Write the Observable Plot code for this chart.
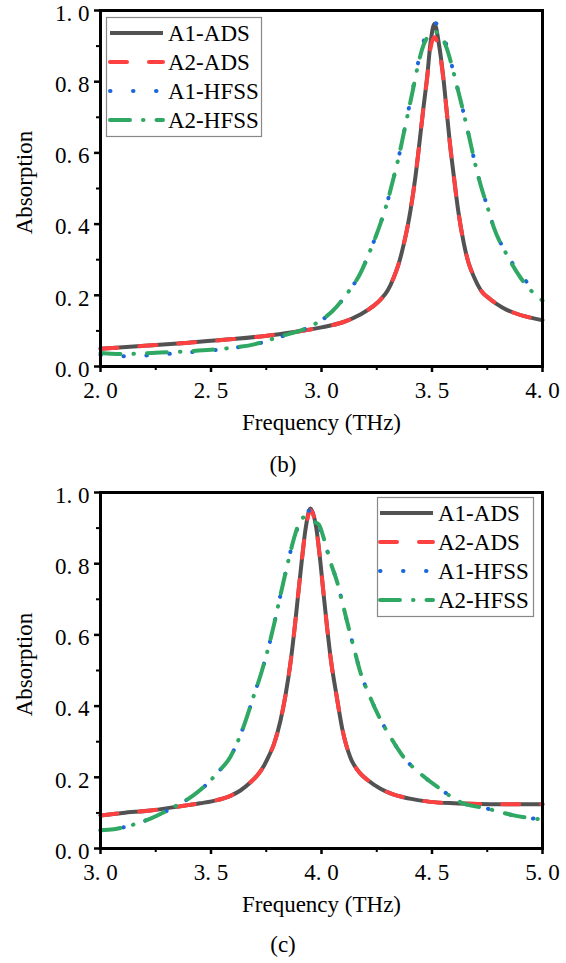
<!DOCTYPE html>
<html><head><meta charset="utf-8">
<script src="https://cdn.jsdelivr.net/npm/d3@7"></script>
<script src="https://cdn.jsdelivr.net/npm/@observablehq/plot@0.6"></script>
<style>
body{margin:0;background:#fff;width:566px;height:963px;position:relative;font-family:'Liberation Serif',serif;overflow:hidden;}
.panel{position:absolute;left:0;}
.cap{position:absolute;left:0;width:566px;text-align:center;font-size:23px;line-height:26px;color:#000;font-family:'Liberation Serif',serif;}
.legend{position:absolute;}
.plotwrap svg text{font-family:'Liberation Serif',serif;}
</style></head><body>
<div id="pb" class="panel plotwrap" style="top:0"></div>
<div class="cap" style="top:452px">(b)</div>
<div id="pc" class="panel plotwrap" style="top:480px"></div>
<div class="cap" style="top:932px">(c)</div>
<script>
// ---------- series meta ----------
const seriesNames = ["A1-ADS", "A2-ADS", "A1-HFSS", "A2-HFSS"];
const seriesColors = ["#525252", "#ff4040", "#1c66dc", "#2ea862"];
const seriesDash = [null, "17,22", "0.5,22.5", "20,13,0.5,13"];

const yTicks = [0, 0.2, 0.4, 0.6, 0.8, 1.0];
const yMinor = [0.1, 0.3, 0.5, 0.7, 0.9];

// ---------- panel (b) ----------
const xTicksB = [2.0, 2.5, 3.0, 3.5, 4.0];
const xMinorB = [2.25, 2.75, 3.25, 3.75];

const freqB_ADS = [2.0, 2.2, 2.4, 2.6, 2.8, 2.9, 3.0, 3.1, 3.176, 3.22, 3.267, 3.3, 3.327, 3.35, 3.372, 3.39, 3.403, 3.425, 3.443, 3.46, 3.478, 3.493, 3.511, 3.531, 3.551, 3.566, 3.581, 3.599, 3.618, 3.644, 3.665, 3.689, 3.72, 3.765, 3.82, 3.87, 3.94, 4.0];
const absB_A1ADS = [0.050, 0.058, 0.067, 0.077, 0.090, 0.099, 0.110, 0.125, 0.146, 0.163, 0.188, 0.214, 0.250, 0.290, 0.343, 0.395, 0.440, 0.533, 0.627, 0.720, 0.813, 0.907, 0.963, 0.907, 0.813, 0.720, 0.627, 0.533, 0.440, 0.346, 0.292, 0.253, 0.215, 0.188, 0.165, 0.151, 0.138, 0.130];
const absB_A2ADS = [0.050, 0.058, 0.067, 0.077, 0.090, 0.099, 0.110, 0.125, 0.146, 0.163, 0.188, 0.214, 0.250, 0.290, 0.343, 0.395, 0.440, 0.533, 0.627, 0.720, 0.810, 0.893, 0.925, 0.893, 0.810, 0.720, 0.627, 0.533, 0.440, 0.346, 0.292, 0.253, 0.215, 0.188, 0.165, 0.151, 0.138, 0.130];

const freqB_HFSS = [2.0, 2.05, 2.1, 2.2, 2.3, 2.4, 2.5, 2.6, 2.7, 2.77, 2.85, 2.9, 3.0, 3.05, 3.116, 3.176, 3.22, 3.267, 3.297, 3.32, 3.35, 3.372, 3.395, 3.418, 3.436, 3.463, 3.49, 3.513, 3.54, 3.566, 3.596, 3.614, 3.644, 3.667, 3.697, 3.72, 3.75, 3.78, 3.84, 3.9, 3.95, 4.0];
const absB_A1HFSS = [0.033, 0.029, 0.029, 0.031, 0.035, 0.040, 0.045, 0.052, 0.062, 0.075, 0.090, 0.099, 0.130, 0.155, 0.205, 0.262, 0.325, 0.402, 0.460, 0.515, 0.590, 0.655, 0.725, 0.795, 0.850, 0.915, 0.952, 0.965, 0.945, 0.902, 0.830, 0.785, 0.710, 0.648, 0.565, 0.510, 0.450, 0.390, 0.315, 0.258, 0.225, 0.205];
const absB_A2HFSS = [0.038, 0.036, 0.035, 0.037, 0.040, 0.043, 0.047, 0.053, 0.063, 0.076, 0.091, 0.100, 0.131, 0.156, 0.205, 0.262, 0.325, 0.402, 0.460, 0.515, 0.590, 0.655, 0.722, 0.790, 0.845, 0.905, 0.932, 0.940, 0.930, 0.895, 0.830, 0.785, 0.710, 0.648, 0.565, 0.510, 0.450, 0.390, 0.312, 0.250, 0.212, 0.185];

// ---------- panel (c) ----------
const xTicksC = [3.0, 3.5, 4.0, 4.5, 5.0];
const xMinorC = [3.25, 3.75, 4.25, 4.75];

const freqC_ADS = [3.0, 3.1, 3.226, 3.377, 3.45, 3.528, 3.588, 3.633, 3.679, 3.709, 3.739, 3.762, 3.784, 3.814, 3.837, 3.86, 3.878, 3.894, 3.91, 3.928, 3.95, 3.977, 3.995, 4.01, 4.026, 4.044, 4.068, 4.094, 4.131, 4.17, 4.207, 4.267, 4.312, 4.4, 4.493, 4.6, 4.72, 4.85, 5.0];
const absC_A1ADS = [0.093, 0.100, 0.107, 0.120, 0.127, 0.136, 0.148, 0.163, 0.186, 0.205, 0.232, 0.260, 0.292, 0.358, 0.430, 0.523, 0.617, 0.711, 0.804, 0.898, 0.955, 0.898, 0.804, 0.711, 0.617, 0.523, 0.430, 0.336, 0.255, 0.215, 0.193, 0.168, 0.155, 0.140, 0.131, 0.127, 0.125, 0.124, 0.124];
const absC_A2ADS = [0.093, 0.100, 0.107, 0.120, 0.127, 0.136, 0.148, 0.163, 0.186, 0.205, 0.232, 0.260, 0.292, 0.358, 0.430, 0.523, 0.617, 0.711, 0.804, 0.895, 0.950, 0.895, 0.804, 0.711, 0.617, 0.523, 0.430, 0.336, 0.255, 0.215, 0.193, 0.168, 0.155, 0.140, 0.131, 0.127, 0.125, 0.124, 0.124];

const freqC_HFSS = [3.0, 3.06, 3.12, 3.226, 3.33, 3.42, 3.48, 3.528, 3.588, 3.649, 3.694, 3.724, 3.762, 3.784, 3.814, 3.845, 3.875, 3.897, 3.92, 3.943, 3.965, 3.988, 4.01, 4.041, 4.071, 4.094, 4.124, 4.146, 4.176, 4.214, 4.267, 4.312, 4.372, 4.448, 4.538, 4.629, 4.75, 4.87, 5.0];
const absC_A1HFSS = [0.051, 0.054, 0.062, 0.084, 0.116, 0.149, 0.180, 0.212, 0.258, 0.345, 0.430, 0.486, 0.570, 0.626, 0.711, 0.795, 0.870, 0.907, 0.935, 0.949, 0.935, 0.905, 0.870, 0.804, 0.748, 0.692, 0.617, 0.565, 0.495, 0.434, 0.362, 0.313, 0.256, 0.210, 0.167, 0.130, 0.112, 0.093, 0.081];
const absC_A2HFSS = [0.051, 0.054, 0.062, 0.084, 0.116, 0.149, 0.180, 0.212, 0.258, 0.345, 0.430, 0.486, 0.570, 0.626, 0.711, 0.795, 0.870, 0.912, 0.930, 0.925, 0.918, 0.910, 0.872, 0.804, 0.748, 0.692, 0.617, 0.565, 0.495, 0.434, 0.362, 0.313, 0.256, 0.210, 0.167, 0.130, 0.112, 0.093, 0.081];

const fmt = d => d.toFixed(1).replace(".", ". ");
const FONT = "'Liberation Serif', serif";

function makePanel(xDomain, xTicks, xMinor, series, marginTop) {
  const plotH = 356;
  const lineMarks = series.map((s, i) => {
    const rows = s.x.map((x, j) => ({x, y: s.y[j]}));
    return Plot.line(rows, {
      x: "x", y: "y", stroke: seriesColors[i], strokeWidth: 4,
      strokeDasharray: seriesDash[i] || undefined, strokeLinecap: "round",
      strokeLinejoin: "round", curve: "monotone-x"
    });
  });
  return Plot.plot({
    width: 566, height: marginTop + plotH + 70,
    marginLeft: 100, marginRight: 24, marginTop, marginBottom: 70,
    style: {fontFamily: FONT, fontSize: "23px", color: "black", background: "white", overflow: "visible"},
    x: {domain: xDomain},
    y: {domain: [0, 1]},
    marks: [
      ...lineMarks,
      Plot.frame({stroke: "black", strokeWidth: 3}),
      Plot.axisX({ticks: xTicks, tickSize: 6, tickPadding: 9, tickFormat: fmt, strokeWidth: 2.5, label: null, fontSize: 23, fontFamily: FONT}),
      Plot.axisX({ticks: xMinor, tickSize: 4, tickFormat: () => "", strokeWidth: 2, label: null}),
      Plot.axisY({ticks: yTicks, tickSize: 6, tickFormat: () => "", strokeWidth: 2.5, label: null}),
      Plot.axisY({ticks: yTicks, tickSize: 0, tickPadding: 11, dy: 3, tickFormat: fmt, label: null, fontSize: 23, fontFamily: FONT}),
      Plot.axisY({ticks: yMinor, tickSize: 4, tickFormat: () => "", strokeWidth: 2, label: null}),
      Plot.text(["Frequency (THz)"], {frameAnchor: "bottom", dy: 56, text: d => d, textAnchor: "middle", lineAnchor: "middle", fontSize: 23, fontFamily: FONT, fill: "black"}),
      Plot.text(["Absorption"], {frameAnchor: "left", dx: -76, dy: -6, rotate: -90, text: d => d, textAnchor: "middle", lineAnchor: "middle", fontSize: 23, fontFamily: FONT, fill: "black"})
    ]
  });
}

function makeLegend(container, left, top, w, h, sampleX1, sampleX2, textX) {
  const div = document.createElement("div");
  div.className = "legend";
  div.style.left = left + "px";
  div.style.top = top + "px";
  container.appendChild(div);
  const svg = d3.select(div).append("svg").attr("width", w).attr("height", h)
    .style("overflow", "visible").style("display", "block");
  svg.append("rect").attr("x", 0.5).attr("y", 0.5).attr("width", w - 1).attr("height", h - 1)
    .attr("fill", "white").attr("stroke", "#888").attr("stroke-width", 1.2);
  seriesNames.forEach((name, i) => {
    const cy = 16 + i * 29;
    const ln = svg.append("line").attr("x1", sampleX1).attr("x2", sampleX2).attr("y1", cy).attr("y2", cy)
      .attr("stroke", seriesColors[i]).attr("stroke-width", 4).attr("stroke-linecap", i === 0 ? "butt" : "round");
    if (seriesDash[i]) ln.attr("stroke-dasharray", seriesDash[i]);
    svg.append("text").attr("x", textX).attr("y", cy).attr("dominant-baseline", "central")
      .style("font-family", FONT).style("font-size", "23px")
      .attr("fill", "black").text(name);
  });
}

const seriesB = [
  {x: freqB_ADS, y: absB_A1ADS},
  {x: freqB_ADS, y: absB_A2ADS},
  {x: freqB_HFSS, y: absB_A1HFSS},
  {x: freqB_HFSS, y: absB_A2HFSS}
];
const seriesC = [
  {x: freqC_ADS, y: absC_A1ADS},
  {x: freqC_ADS, y: absC_A2ADS},
  {x: freqC_HFSS, y: absC_A1HFSS},
  {x: freqC_HFSS, y: absC_A2HFSS}
];

document.getElementById("pb").appendChild(makePanel([2, 4], xTicksB, xMinorB, seriesB, 10));
makeLegend(document.body, 106, 17, 156, 120, 4, 57, 62);

document.getElementById("pc").appendChild(makePanel([3, 5], xTicksC, xMinorC, seriesC, 12));
makeLegend(document.body, 377, 497, 157, 120, 3, 56, 61);
</script>
</body></html>
